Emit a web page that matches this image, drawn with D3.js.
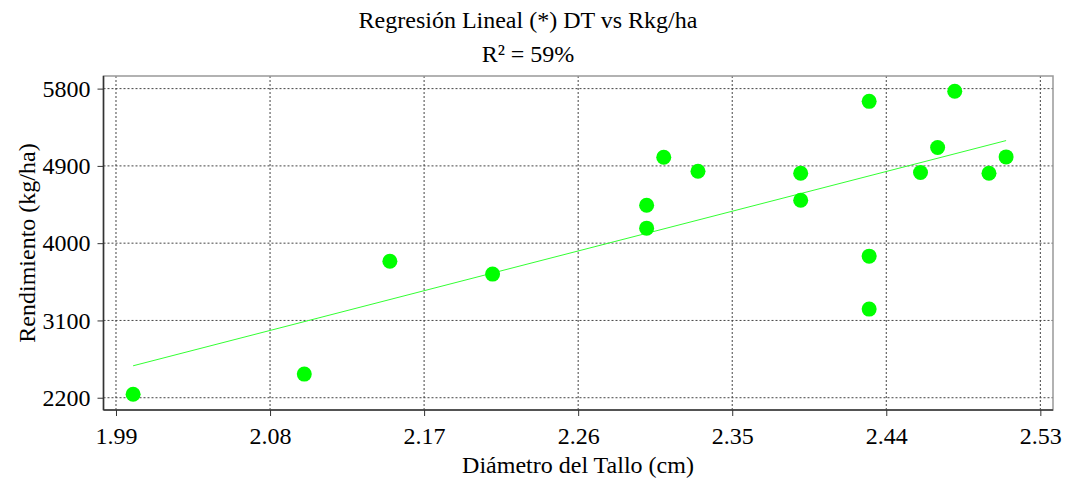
<!DOCTYPE html>
<html>
<head>
<meta charset="utf-8">
<script src="https://cdn.jsdelivr.net/npm/d3@7"></script>
<style>
  body { margin: 0; background: #fff; }
  svg { display: block; font-family: "Liberation Serif", "Times New Roman", serif; }
</style>
</head>
<body>
<svg width="1067" height="484"></svg>
<script>
// diámetro del tallo (cm) y rendimiento (kg/ha)
const diametro = [2.00, 2.10, 2.15, 2.21, 2.30, 2.30, 2.31, 2.33, 2.39, 2.39,
                  2.43, 2.43, 2.43, 2.46, 2.47, 2.48, 2.50, 2.51];
const rendimiento = [2240, 2475, 3790, 3640, 4442, 4175, 5001, 4838, 4815, 4500,
                     5652, 3849, 3232, 4823, 5114, 5769, 4815, 5005];
// extremos de la recta ajustada
const fitX = [2.00, 2.51];
const fitY = [2572, 5195];
const xTicks = [1.99, 2.08, 2.17, 2.26, 2.35, 2.44, 2.53];
const yTicks = [2200, 3100, 4000, 4900, 5800];

const svg = d3.select('svg');
const pLeft = 103.5, pRight = 1053, pTop = 76, pBottom = 410;
const fs = 24;

const x = d3.scaleLinear().domain([1.9827, 2.5374]).range([pLeft, pRight]);
const y = d3.scaleLinear().domain([2057, 5947]).range([pBottom, pTop]);

// grid
svg.append('g').selectAll('line')
  .data(xTicks)
  .enter().append('line')
  .attr('x1', d => x(d)).attr('x2', d => x(d))
  .attr('y1', pTop).attr('y2', pBottom)
  .attr('stroke', '#444').attr('stroke-width', 1).attr('stroke-dasharray', '2,2');
svg.append('g').selectAll('line')
  .data(yTicks)
  .enter().append('line')
  .attr('x1', pLeft).attr('x2', pRight)
  .attr('y1', d => y(d)).attr('y2', d => y(d))
  .attr('stroke', '#444').attr('stroke-width', 1).attr('stroke-dasharray', '2,2');

// frame
svg.append('rect')
  .attr('x', pLeft).attr('y', pTop)
  .attr('width', pRight - pLeft).attr('height', pBottom - pTop)
  .attr('fill', 'none').attr('stroke', '#999').attr('stroke-width', 1.5);

// axes
const xAxis = svg.append('g')
  .attr('transform', `translate(0,${pBottom})`)
  .call(d3.axisBottom(x).tickValues(xTicks).tickFormat(d3.format('.2f')).tickSize(6).tickPadding(11));
const yAxis = svg.append('g')
  .attr('transform', `translate(${pLeft},0)`)
  .call(d3.axisLeft(y).tickValues(yTicks).tickFormat(d3.format('d')).tickSize(6).tickPadding(7));
[xAxis, yAxis].forEach(a => {
  a.select('.domain').attr('stroke', '#333').attr('stroke-width', 1.5);
  a.selectAll('.tick line').attr('stroke', '#333');
  a.selectAll('.tick text')
    .attr('font-family', '"Liberation Serif", serif')
    .attr('font-size', fs).attr('fill', '#000');
});
xAxis.select('.domain').attr('d', `M${pLeft},0H${pRight}`);
yAxis.select('.domain').attr('d', `M0,${pBottom}V${pTop}`);

// regression line
svg.append('line')
  .attr('x1', x(fitX[0])).attr('y1', y(fitY[0]))
  .attr('x2', x(fitX[1])).attr('y2', y(fitY[1]))
  .attr('stroke', '#33ff33').attr('stroke-width', 1);

// points
svg.append('g').selectAll('circle')
  .data(diametro)
  .enter().append('circle')
  .attr('cx', d => x(d))
  .attr('cy', (d, i) => y(rendimiento[i]))
  .attr('r', 7.5)
  .attr('fill', '#00ff00');

// titles
svg.append('text')
  .attr('x', 528).attr('y', 28)
  .attr('text-anchor', 'middle').attr('font-size', fs)
  .text('Regresión Lineal (*) DT vs Rkg/ha');
svg.append('text')
  .attr('x', 528).attr('y', 62)
  .attr('text-anchor', 'middle').attr('font-size', fs)
  .text('R² = 59%');
svg.append('text')
  .attr('x', 578).attr('y', 473)
  .attr('text-anchor', 'middle').attr('font-size', fs)
  .text('Diámetro del Tallo (cm)');
svg.append('text')
  .attr('transform', `translate(35,243) rotate(-90)`)
  .attr('text-anchor', 'middle').attr('font-size', fs)
  .text('Rendimiento (kg/ha)');
</script>
</body>
</html>
